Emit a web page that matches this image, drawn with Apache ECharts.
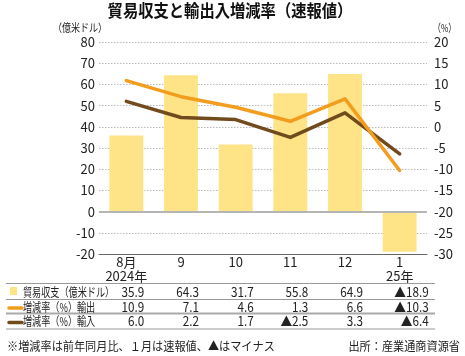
<!DOCTYPE html>
<html><head><meta charset="utf-8">
<script src="https://cdn.jsdelivr.net/npm/echarts@6/dist/echarts.min.js"></script>
<style>html,body{margin:0;padding:0;background:#fff}#c{width:465px;height:356px}</style>
</head><body><div id="c"></div>
<script>
const categories = ['8月\n2024年', '9', '10', '11', '12', '1\n25年'];
const tradeBalance = [35.9, 64.3, 31.7, 55.8, 64.9, -18.9];
const exportRate = [10.9, 7.1, 4.6, 1.3, 6.6, -10.3];
const importRate = [6.0, 2.2, 1.7, -2.5, 3.3, -6.4];
const rowLabels = ['貿易収支（億米ドル）', '増減率（%）輸出', '増減率（%）輸入'];
const leftAxisRange = [-20, 80, 10];
const rightAxisRange = [-30, 20, 5];

const C_BAR = '#FFE487', C_EXP = '#F29D1E', C_IMP = '#714B1E';
const FONT = 'Noto Sans CJK JP';
const chart = echarts.init(document.getElementById('c'), null, {renderer: 'canvas'});

const fmt = v => (v < 0 ? '▲' : '') + Math.abs(v).toFixed(1);

chart.setOption({
  animation: false,
  textStyle: {fontFamily: FONT},
  grid: {left: 99, right: 38, top: 42, bottom: 102},
  xAxis: {
    type: 'category', data: categories,
    axisTick: {show: false},
    axisLine: {onZero: false, lineStyle: {color: '#666', width: 1}},
    axisLabel: {color: '#222', fontSize: 13, lineHeight: 14, margin: 1, interval: 0}
  },
  yAxis: [{
    type: 'value', min: leftAxisRange[0], max: leftAxisRange[1], interval: leftAxisRange[2],
    axisLine: {show: false}, axisTick: {show: false},
    axisLabel: {color: '#222', fontSize: 13, margin: 4},
    splitLine: {lineStyle: {color: '#bbb', type: [1.5, 1.5], width: 1}}
  }, {
    type: 'value', min: rightAxisRange[0], max: rightAxisRange[1], interval: rightAxisRange[2],
    axisLine: {show: false}, axisTick: {show: false},
    axisLabel: {color: '#222', fontSize: 13, margin: 7},
    splitLine: {show: false}
  }],
  series: [{
    type: 'bar', data: tradeBalance, barWidth: '62%', itemStyle: {color: C_BAR},
    markLine: {silent: true, symbol: 'none', label: {show: false},
      lineStyle: {color: '#b5b5b5', width: 2, type: 'solid'}, data: [{yAxis: 0}]}
  }, {
    type: 'line', yAxisIndex: 1, data: exportRate, showSymbol: false, symbol: 'none',
    lineStyle: {color: C_EXP, width: 3.5, cap: 'round', join: 'round'}, itemStyle: {color: C_EXP}, z: 4
  }, {
    type: 'line', yAxisIndex: 1, data: importRate, showSymbol: false, symbol: 'none',
    lineStyle: {color: C_IMP, width: 3.5, cap: 'round', join: 'round'}, itemStyle: {color: C_IMP}, z: 3
  }]
});

const g = [];
function txt(x, y, s, o) {
  o = o || {};
  g.push({type: 'text', x: x, y: y, scaleX: o.sx || 1, silent: true,
    style: {text: s, fill: o.fill || '#222', font: (o.w || 'normal') + ' ' + (o.fs || 13) + 'px "' + FONT + '"',
      align: o.align || 'left', verticalAlign: 'middle'}});
}
function hline(x1, x2, y, color, w) {
  g.push({type: 'line', silent: true, shape: {x1: x1, y1: y, x2: x2, y2: y}, style: {stroke: color, lineWidth: w}});
}
// title & axis units
txt(230, 11, '貿易収支と輸出入増減率（速報値）', {fs: 17, w: 'bold', align: 'center', sx: 0.9, fill: '#111'});
txt(53, 28, '（億米ドル）', {fs: 11, sx: 0.82});
txt(433, 28, '（%）', {fs: 11, sx: 0.72});

// table lines
hline(6, 435, 283.5, '#999', 1);
hline(6, 435, 299.5, '#999', 1);
hline(6, 435, 313.5, '#aaa', 2);
hline(6, 435, 329, '#999', 1);

const rowY = [292, 307, 321.5];
// legend swatches
g.push({type: 'rect', silent: true, shape: {x: 10, y: 287, width: 7, height: 8}, style: {fill: C_BAR}});
g.push({type: 'line', silent: true, shape: {x1: 9, y1: rowY[1] + 1, x2: 22, y2: rowY[1] + 1}, style: {stroke: C_EXP, lineWidth: 3.5, lineCap: 'round'}});
g.push({type: 'line', silent: true, shape: {x1: 9, y1: rowY[2] + 1, x2: 22, y2: rowY[2] + 1}, style: {stroke: C_IMP, lineWidth: 3.5, lineCap: 'round'}});
rowLabels.forEach((s, r) => txt(23, rowY[r], s, {fs: 12, sx: 0.76}));

const rows = [tradeBalance, exportRate, importRate];
rows.forEach((arr, r) => {
  arr.forEach((v, i) => {
    const cx = chart.convertToPixel({xAxisIndex: 0}, i);
    const off = i === arr.length - 1 ? 29 : 18;
    txt(cx + off, rowY[r], fmt(v), {fs: 13, align: 'right', sx: 0.9});
  });
});

// footer
txt(7, 346, '※増減率は前年同月比、１月は速報値、▲はマイナス', {fs: 12, sx: 0.93});
txt(460, 346, '出所：産業通商資源省', {fs: 12, align: 'right', sx: 0.93});

chart.setOption({graphic: g});
</script>
</body></html>
